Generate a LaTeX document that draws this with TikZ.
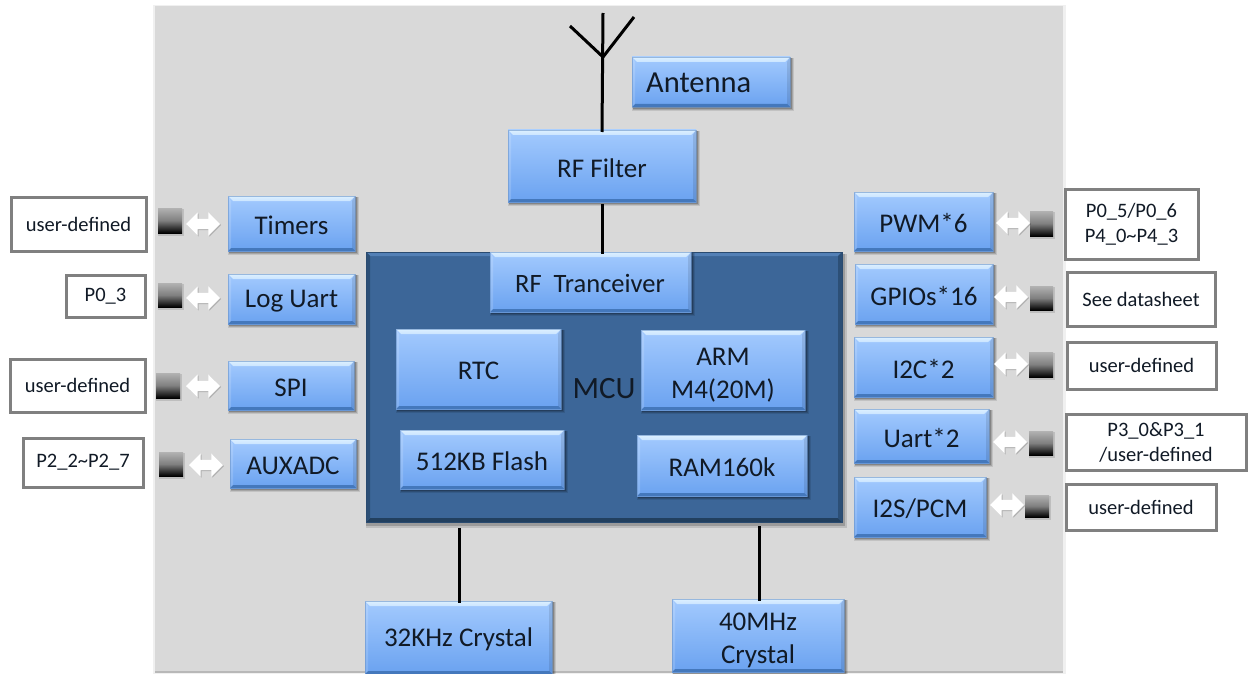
\documentclass[tikz,border=0pt]{standalone}
\usepackage{fontspec}
\setmainfont{Carlito}
\usetikzlibrary{shapes.arrows,calc,shadows}
\definecolor{bluetop}{HTML}{A3CAFE}
\definecolor{bluebot}{HTML}{6AA2F0}
\definecolor{bevtop}{HTML}{DCF0FF}
\definecolor{bevbot}{HTML}{4478BC}
\definecolor{mcu}{HTML}{3C6698}
\definecolor{mcutop}{HTML}{5380B6}
\definecolor{mcubot}{HTML}{22405F}
\definecolor{panel}{HTML}{D9D9D9}
\definecolor{txt}{HTML}{111A26}
\tikzset{
  x=1pt,y=-1pt,
  bevbox/.style={inner sep=0pt,outer sep=0pt,align=center,text=txt,font=\fontsize{27}{33}\selectfont},
  pinlabel/.style={draw=black!50,line width=3pt,fill=white,inner sep=0pt,align=center,text=txt,font=\fontsize{20.5}{25}\selectfont},
  pinsq/.style={inner sep=0pt,top color=black!30,bottom color=black,middle color=black!50},
  dblarrow/.style={double arrow,fill=white,draw=none,inner sep=0pt,text height=10pt,text depth=0pt,text width=0pt,double arrow head extend=6.5pt,minimum height=34pt,drop shadow={shadow xshift=1pt,shadow yshift=-1pt,opacity=.18,fill=black}},
  wire/.style={line width=3pt,black},
}
% name, x0, y0, x1, y1, text
\newcommand{\bevel}[6]{%
  \fill[black,opacity=.10] (#2+0,#3+1) rectangle (#4+4,#5+4);
  \fill[black,opacity=.15] (#2+1,#3+1) rectangle (#4+3,#5+3);
  \fill[black,opacity=.20] (#2+1,#3+1) rectangle (#4+2,#5+2);
  \shade[top color=bluetop,bottom color=bluebot] (#2,#3) rectangle (#4,#5);
  \shade[top color=bevtop,bottom color=bevtop!70!bluetop] (#2,#3) -- (#4,#3) -- (#4-5,#3+5) -- (#2+5,#3+5) -- cycle;
  \fill[bevbot] (#2,#5) -- (#4,#5) -- (#4-3,#5-3) -- (#2+3,#5-3) -- cycle;
  \fill[white,opacity=.15] (#2,#3) -- (#2+3,#3+5) -- (#2+3,#5-3) -- (#2,#5) -- cycle;
  \fill[black,opacity=.10] (#4,#3) -- (#4-3,#3+5) -- (#4-3,#5-3) -- (#4,#5) -- cycle;
  \draw[bevbot!80!white,line width=.6pt,opacity=.6] (#2,#3) rectangle (#4,#5);
  \node[bevbox,minimum width=#4pt-#2pt,minimum height=#5pt-#3pt,yshift=-2pt] (#1) at ({(#2+#4)/2},{(#3+#5)/2}) {#6};
}
\newcommand{\pinbox}[6]{%
  \node[pinlabel,minimum width=#4pt-#2pt,minimum height=#5pt-#3pt] (#1) at ({(#2+#4)/2},{(#3+#5)/2}) {#6};
}
\newcommand{\pinsquare}[5]{%
  \fill[black,opacity=.12] (#2,#3+1) rectangle (#4+2,#5+3);
  \node[pinsq,minimum width=#4pt-#2pt,minimum height=#5pt-#3pt] (#1) at ({(#2+#4)/2},{(#3+#5)/2}) {};
}
\newcommand{\dbl}[3]{\node[dblarrow] (#1) at (#2,#3) {};}
\begin{document}
\begin{tikzpicture}
\useasboundingbox (0,0) rectangle (1248,674);
\fill[black!6] (153,5) rectangle (1066,674);
\fill[panel] (155,6) rectangle (1063,672);
\fill[black!28] (155,671) rectangle (1063,672.5);

% MCU
\fill[black,opacity=.12] (366,254) rectangle (847,528);
\fill[black,opacity=.18] (366,254) rectangle (845,526);
\fill[mcu] (366,252) rectangle (842,522);
\fill[mcutop] (366,252) -- (842,252) -- (838,256) -- (370,256) -- cycle;
\fill[mcubot] (366,522) -- (842,522) -- (838,518) -- (370,518) -- cycle;
\fill[mcubot!60!mcu] (366,252) -- (370,256) -- (370,518) -- (366,522) -- cycle;
\fill[mcubot!60!mcu] (842,252) -- (838,256) -- (838,518) -- (842,522) -- cycle;
\draw[mcubot!70!mcu,line width=.8pt] (366,252) rectangle (842,522);
\node[inner sep=0pt,text=txt,font=\fontsize{31}{35}\selectfont] (mcu) at (604,389) {MCU};

\bevel{filter}{508}{130}{696}{202}{RF Filter}
\bevel{ant}{632}{57}{790}{107}{}
\node[inner sep=0pt,anchor=west,text=txt,font=\fontsize{30.5}{35}\selectfont] (anttext) at (646,83) {Antenna};
\bevel{rf}{490}{252}{691}{312}{}
\node[inner sep=0pt,text=txt,font=\fontsize{26.5}{30}\selectfont] (rftext) at (590,283) {RF\ \ Tranceiver};
\bevel{rtc}{396}{329}{561}{409}{RTC}
\bevel{arm}{641}{330}{805}{410}{\rule{0pt}{23pt}ARM\\M4(20M)}
\bevel{flash}{400}{430}{564}{489}{512KB Flash}
\bevel{ram}{637}{435}{807}{496}{RAM160k}
\bevel{xa}{365}{601}{552}{674}{32KHz Crystal}
\bevel{xb}{672}{599}{844}{672}{\rule{0pt}{24pt}40MHz\\Crystal}

\bevel{timers}{228}{196}{355}{251}{Timers}
\bevel{loguart}{228}{274}{355}{324}{Log Uart}
\bevel{spi}{228}{361}{354}{410}{SPI}
\bevel{adc}{230}{439}{356}{488}{AUXADC}
\bevel{pwm}{854}{192}{993}{251}{PWM*6}
\bevel{gpio}{855}{264}{993}{324}{GPIOs*16}
\bevel{iic}{854}{337}{993}{397}{I2C*2}
\bevel{uart}{854}{409}{989}{463}{Uart*2}
\bevel{iis}{854}{477}{986}{537}{I2S/PCM}

% wires
\coordinate (apex) at (603,57);
\coordinate (atop) at (603,13);
\coordinate (aleft) at (570,26);
\coordinate (aright) at (634,17);
\coordinate (mcuA) at (459,528);
\coordinate (mcuB) at (759,526);
\draw[wire] (atop) -- (filter.north);
\draw[wire] (aleft) -- (apex) -- (aright);
\draw[wire] (filter.south) -- (rf.north -| filter.south);
\draw[wire] (mcuA) -- (mcuA |- xa.north);
\draw[wire] (mcuB) -- (mcuB |- xb.north);

% labels
\pinbox{la}{11}{197}{146}{251}{user-defined}
\pinbox{lb}{66}{275}{145}{317}{P0\_3}
\pinbox{lc}{10}{359}{145}{412}{user-defined}
\pinbox{ld}{23}{438}{143}{487}{P2\_2\textasciitilde P2\_7}
\pinbox{ra}{1065}{189}{1198}{259}{P0\_5/P0\_6\\P4\_0\textasciitilde P4\_3}
\pinbox{rb}{1067}{272}{1215}{326}{See datasheet}
\pinbox{rc}{1067}{342}{1216}{389}{user-defined}
\pinbox{rd}{1066}{414}{1246}{470}{P3\_0\&P3\_1\\/user-defined}
\pinbox{re}{1066}{484}{1216}{530}{user-defined}

% pin squares
\pinsquare{sla}{158}{208}{182}{233}
\pinsquare{slb}{158}{283}{182}{307}
\pinsquare{slc}{156}{373}{180}{398}
\pinsquare{sld}{159}{452}{183}{476}
\pinsquare{sra}{1030}{211}{1053}{236}
\pinsquare{srb}{1030}{286}{1053}{310}
\pinsquare{src}{1029}{352}{1053}{377}
\pinsquare{srd}{1029}{431}{1053}{455}
\pinsquare{sre}{1025}{495}{1049}{517}

% double arrows
\dbl{ala}{203}{224}
\dbl{alb}{203}{298}
\dbl{alc}{203}{386}
\dbl{ald}{206}{465}
\dbl{ara}{1013}{223}
\dbl{arb}{1011}{297}
\dbl{arc}{1011}{364}
\dbl{ard}{1010}{442}
\dbl{are}{1007}{505}
\end{tikzpicture}
\end{document}
